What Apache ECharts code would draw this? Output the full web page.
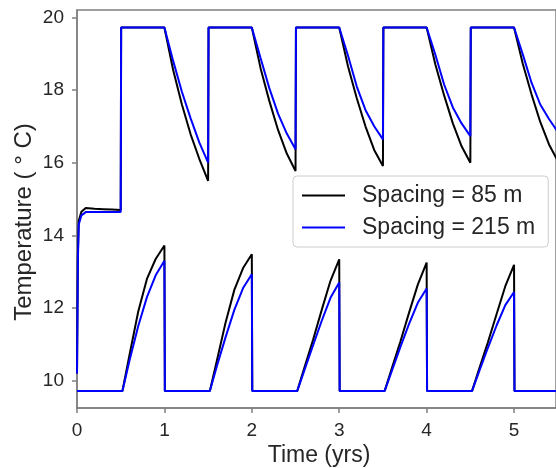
<!DOCTYPE html>
<html>
<head>
<meta charset="utf-8">
<script src="https://cdn.jsdelivr.net/npm/echarts@6/dist/echarts.min.js"></script>
<style>
  html, body { margin: 0; padding: 0; background: #fff; }
  #chart { width: 556px; height: 468px; }
</style>
</head>
<body>
<div id="chart"></div>
<script>
// tick labels
const xTicks = [0, 1, 2, 3, 4, 5];
const yTicks = [10, 12, 14, 16, 18, 20];
const seriesNames = ["Spacing = 85 m", "Spacing = 215 m"];

// warm side, 85 m spacing  [time (yrs), temperature]
const warm85 = [
  [0, 10.2], [0.01, 13.5], [0.02, 14.4], [0.05, 14.65], [0.1, 14.75], [0.2, 14.73],
  [0.3, 14.72], [0.4, 14.71], [0.5, 14.7], [0.505, 19.72], [1.0, 19.72],
  [1.1, 18.55], [1.2, 17.6], [1.3, 16.78], [1.4, 16.1], [1.5, 15.5], [1.505, 19.72], [2.0, 19.72],
  [2.1, 18.6], [2.2, 17.7], [2.3, 16.9], [2.4, 16.25], [2.5, 15.77], [2.505, 19.72], [3.0, 19.72],
  [3.1, 18.65], [3.2, 17.78], [3.3, 17.0], [3.4, 16.35], [3.5, 15.91], [3.505, 19.72], [4.0, 19.72],
  [4.1, 18.7], [4.2, 17.85], [4.3, 17.08], [4.4, 16.45], [4.5, 16.0], [4.505, 19.72], [5.0, 19.72],
  [5.1, 18.72], [5.2, 17.88], [5.3, 17.12], [5.4, 16.5], [5.5, 16.05]
];

// cold side, 85 m spacing
const cold85 = [
  [0, 9.72], [0.52, 9.72],
  [0.6, 10.7], [0.7, 11.9], [0.8, 12.8], [0.9, 13.35], [1.0, 13.72], [1.005, 9.72], [1.52, 9.72],
  [1.6, 10.55], [1.7, 11.6], [1.8, 12.5], [1.9, 13.1], [2.0, 13.48], [2.005, 9.72], [2.52, 9.72],
  [2.6, 10.35], [2.7, 11.12], [2.8, 11.95], [2.9, 12.75], [3.0, 13.34], [3.005, 9.72], [3.52, 9.72],
  [3.6, 10.33], [3.7, 11.08], [3.8, 11.88], [3.9, 12.65], [4.0, 13.25], [4.005, 9.72], [4.52, 9.72],
  [4.6, 10.32], [4.7, 11.05], [4.8, 11.83], [4.9, 12.6], [5.0, 13.19], [5.005, 9.72], [5.6, 9.72]
];

// warm side, 215 m spacing
const warm215 = [
  [0, 10.2], [0.01, 13.3], [0.02, 14.3], [0.05, 14.55], [0.1, 14.64], [0.5, 14.64],
  [0.505, 19.72], [1.0, 19.72],
  [1.1, 18.8], [1.2, 17.95], [1.3, 17.22], [1.4, 16.55], [1.5, 16.0], [1.505, 19.72], [2.0, 19.72],
  [2.1, 18.88], [2.2, 18.05], [2.3, 17.35], [2.4, 16.8], [2.5, 16.37], [2.505, 19.72], [3.0, 19.72],
  [3.1, 18.95], [3.2, 18.1], [3.3, 17.45], [3.4, 17.0], [3.5, 16.64], [3.505, 19.72], [4.0, 19.72],
  [4.1, 18.97], [4.2, 18.15], [4.3, 17.52], [4.4, 17.08], [4.5, 16.73], [4.505, 19.72], [5.0, 19.72],
  [5.1, 18.98], [5.2, 18.2], [5.3, 17.6], [5.4, 17.2], [5.5, 16.85]
];

// cold side, 215 m spacing
const cold215 = [
  [0, 9.72], [0.52, 9.72],
  [0.6, 10.55], [0.7, 11.5], [0.8, 12.3], [0.9, 12.9], [1.0, 13.3], [1.005, 9.72], [1.52, 9.72],
  [1.6, 10.4], [1.7, 11.2], [1.8, 11.95], [1.9, 12.55], [2.0, 12.93], [2.005, 9.72], [2.52, 9.72],
  [2.6, 10.28], [2.7, 10.97], [2.8, 11.65], [2.9, 12.28], [3.0, 12.7], [3.005, 9.72], [3.52, 9.72],
  [3.6, 10.26], [3.7, 10.93], [3.8, 11.57], [3.9, 12.15], [4.0, 12.54], [4.005, 9.72], [4.52, 9.72],
  [4.6, 10.25], [4.7, 10.9], [4.8, 11.52], [4.9, 12.08], [5.0, 12.44], [5.005, 9.72], [5.6, 9.72]
];

const FONT = "'Liberation Sans', Arial, sans-serif";
const AXIS_GREY = "#7f7f7f";
const TEXT = "#262626";

const chart = echarts.init(document.getElementById("chart"), null, { renderer: "canvas" });

function line(name, data, color) {
  return {
    name: name,
    type: "line",
    data: data,
    symbol: "none",
    lineStyle: { color: color, width: 2 },
    itemStyle: { color: color },
    clip: true,
    silent: true
  };
}

const option = {
  animation: false,
  backgroundColor: "#fff",
  textStyle: { fontFamily: FONT },
  grid: {
    left: 77, top: 10, right: -5, bottom: 60,
    show: true, borderColor: AXIS_GREY, borderWidth: 1.5, backgroundColor: "transparent"
  },
  legend: {
    data: seriesNames,
    orient: "vertical",
    left: 293, top: 176,
    icon: "rect",
    itemWidth: 43, itemHeight: 2,
    itemGap: 9,
    padding: [8, 13, 8, 9],
    backgroundColor: "rgba(255,255,255,0.85)",
    borderColor: "#cccccc", borderWidth: 1, borderRadius: 4,
    textStyle: { fontFamily: FONT, fontSize: 23, color: TEXT, padding: [0, 0, 0, 12], lineHeight: 22 }
  },
  xAxis: {
    type: "value",
    min: 0, max: 5.48,
    axisLine: { show: true, lineStyle: { color: AXIS_GREY, width: 1.5 } },
    axisTick: { show: true, length: 5, customValues: xTicks, lineStyle: { color: AXIS_GREY, width: 1.5 } },
    axisLabel: { customValues: xTicks, fontSize: 19, color: TEXT, margin: 13, fontFamily: FONT },
    splitLine: { show: false }
  },
  yAxis: {
    type: "value",
    min: 9.25, max: 20.2,
    axisLine: { show: true, lineStyle: { color: AXIS_GREY, width: 1.5 } },
    axisTick: { show: true, length: 5, customValues: yTicks, lineStyle: { color: AXIS_GREY, width: 1.5 } },
    axisLabel: { customValues: yTicks, fontSize: 19, color: TEXT, margin: 13, fontFamily: FONT },
    splitLine: { show: false }
  },
  graphic: [
    {
      type: "text", x: 319, y: 456,
      style: { text: "Time (yrs)", font: "23px " + FONT, fill: TEXT, align: "center", verticalAlign: "middle" }
    },
    {
      type: "text", x: 24, y: 222, rotation: Math.PI / 2,
      style: { text: "Temperature ( \u00B0 C)", font: "24px " + FONT, fill: TEXT, align: "center", verticalAlign: "middle" }
    }
  ],
  series: [
    line(seriesNames[0], warm85, "#000000"),
    line(seriesNames[0], cold85, "#000000"),
    line(seriesNames[1], warm215, "#0000ff"),
    line(seriesNames[1], cold215, "#0000ff")
  ]
};

chart.setOption(option);
</script>
</body>
</html>
